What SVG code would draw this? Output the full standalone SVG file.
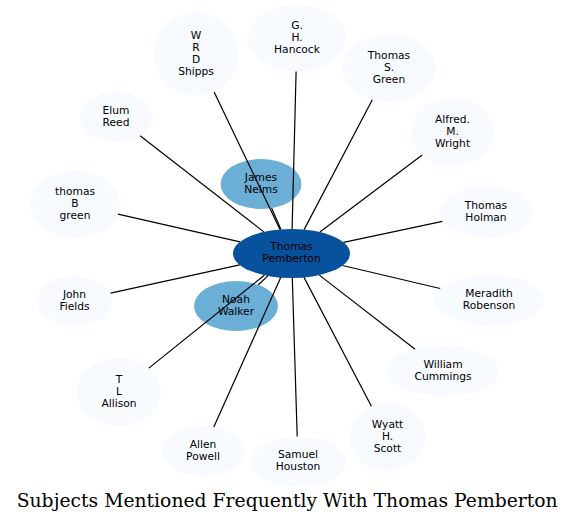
<svg xmlns="http://www.w3.org/2000/svg" width="575" height="522" viewBox="0 0 575 522">
<style>
.n ellipse{stroke:none}
.l{fill:#f7fbff}
.m{fill:#6baed6}
.d{fill:#08519c}
.n text{font-family:"DejaVu Sans","Liberation Sans",sans-serif;font-size:10.7px;text-anchor:middle;fill:#000}
#edges line{stroke:#000;stroke-width:1.2}
.title{font-family:"DejaVu Serif","Liberation Serif",serif;font-size:18.5px;text-anchor:middle;fill:#000}
</style>
<rect width="575" height="522" fill="#fff"/>
<g id="node-pemberton" class="n"><ellipse class="d" cx="291.5" cy="253.5" rx="58.5" ry="24.5"/><text x="291.5" y="250.3">Thomas</text><text x="291.5" y="262.3">Pemberton</text></g>
<g id="node-nelms" class="n"><ellipse class="m" cx="261" cy="184" rx="40.5" ry="25"/><text x="261" y="180.8">James</text><text x="261" y="192.8">Nelms</text></g>
<g id="node-walker" class="n"><ellipse class="m" cx="236" cy="306" rx="42" ry="25"/><text x="236" y="302.8">Noah</text><text x="236" y="314.8">Walker</text></g>
<g id="node-shipps" class="n"><ellipse class="l" cx="196" cy="54" rx="42" ry="42"/><text x="196" y="38.8">W</text><text x="196" y="50.8">R</text><text x="196" y="62.8">D</text><text x="196" y="74.8">Shipps</text></g>
<g id="node-hancock" class="n"><ellipse class="l" cx="297" cy="38" rx="49" ry="33.5"/><text x="297" y="28.8">G.</text><text x="297" y="40.8">H.</text><text x="297" y="52.8">Hancock</text></g>
<g id="node-tsgreen" class="n"><ellipse class="l" cx="389" cy="68" rx="47" ry="34"/><text x="389" y="58.8">Thomas</text><text x="389" y="70.8">S.</text><text x="389" y="82.8">Green</text></g>
<g id="node-wright" class="n"><ellipse class="l" cx="452.5" cy="132" rx="41" ry="34"/><text x="452.5" y="122.8">Alfred.</text><text x="452.5" y="134.8">M.</text><text x="452.5" y="146.8">Wright</text></g>
<g id="node-holman" class="n"><ellipse class="l" cx="486" cy="212" rx="47" ry="25"/><text x="486" y="208.8">Thomas</text><text x="486" y="220.8">Holman</text></g>
<g id="node-robenson" class="n"><ellipse class="l" cx="489" cy="300" rx="55" ry="25"/><text x="489" y="296.8">Meradith</text><text x="489" y="308.8">Robenson</text></g>
<g id="node-cummings" class="n"><ellipse class="l" cx="443" cy="371" rx="56" ry="25"/><text x="443" y="367.8">William</text><text x="443" y="379.8">Cummings</text></g>
<g id="node-scott" class="n"><ellipse class="l" cx="387.5" cy="437" rx="38" ry="34"/><text x="387.5" y="427.8">Wyatt</text><text x="387.5" y="439.8">H.</text><text x="387.5" y="451.8">Scott</text></g>
<g id="node-houston" class="n"><ellipse class="l" cx="298" cy="461.5" rx="48" ry="25"/><text x="298" y="458.3">Samuel</text><text x="298" y="470.3">Houston</text></g>
<g id="node-powell" class="n"><ellipse class="l" cx="203" cy="451" rx="41" ry="25"/><text x="203" y="447.8">Allen</text><text x="203" y="459.8">Powell</text></g>
<g id="node-allison" class="n"><ellipse class="l" cx="119" cy="392" rx="42" ry="34"/><text x="119" y="382.8">T</text><text x="119" y="394.8">L</text><text x="119" y="406.8">Allison</text></g>
<g id="node-fields" class="n"><ellipse class="l" cx="74.5" cy="301" rx="38" ry="25"/><text x="74.5" y="297.8">John</text><text x="74.5" y="309.8">Fields</text></g>
<g id="node-tbgreen" class="n"><ellipse class="l" cx="75" cy="204.5" rx="45" ry="33.5"/><text x="75" y="195.3">thomas</text><text x="75" y="207.3">B</text><text x="75" y="219.3">green</text></g>
<g id="node-reed" class="n"><ellipse class="l" cx="116" cy="117" rx="36.5" ry="25"/><text x="116" y="113.8">Elum</text><text x="116" y="125.8">Reed</text></g>
<g id="edges">
<line x1="280.0" y1="229.5" x2="214.1" y2="91.9"/>
<line x1="292.1" y1="229.0" x2="296.1" y2="71.5"/>
<line x1="304.1" y1="229.6" x2="372.3" y2="99.8"/>
<line x1="319.9" y1="232.1" x2="422.2" y2="154.9"/>
<line x1="343.6" y1="242.4" x2="442.4" y2="221.3"/>
<line x1="342.5" y1="265.5" x2="440.2" y2="288.5"/>
<line x1="319.3" y1="275.1" x2="415.1" y2="349.3"/>
<line x1="304.0" y1="277.4" x2="371.4" y2="406.2"/>
<line x1="292.3" y1="278.0" x2="297.2" y2="436.5"/>
<line x1="280.7" y1="277.6" x2="213.8" y2="426.9"/>
<line x1="264.4" y1="275.2" x2="148.8" y2="368.1"/>
<line x1="239.7" y1="264.8" x2="110.6" y2="293.1"/>
<line x1="240.0" y1="241.9" x2="118.0" y2="214.2"/>
<line x1="263.8" y1="231.9" x2="140.1" y2="135.8"/>
<line x1="280.9" y1="229.4" x2="271.6" y2="208.1"/>
<line x1="267.8" y1="275.9" x2="258.4" y2="284.8"/>
</g>
<text class="title" x="287.2" y="506.5" textLength="541" lengthAdjust="spacingAndGlyphs">Subjects Mentioned Frequently With Thomas Pemberton</text>
</svg>
